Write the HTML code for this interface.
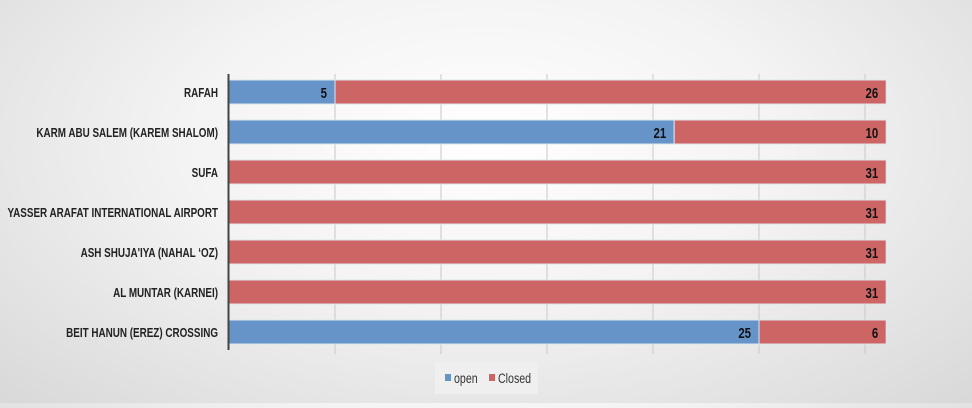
<!DOCTYPE html>
<html><head><meta charset="utf-8"><style>
html,body{margin:0;padding:0}
body{width:972px;height:403px;overflow:hidden;background:radial-gradient(ellipse 70% 90% at 50% 35%,#ffffff 0%,#f3f3f3 45%,#d9d9d9 100%);font-family:"Liberation Sans",sans-serif}
svg text{font-family:"Liberation Sans",sans-serif}
</style></head><body>
<svg id="chart" width="972" height="403" xmlns="http://www.w3.org/2000/svg"></svg>
<script>
const categories=["RAFAH","KARM ABU SALEM (KAREM SHALOM)","SUFA","YASSER ARAFAT INTERNATIONAL AIRPORT","ASH SHUJA'IYA (NAHAL \u2018OZ)","AL MUNTAR (KARNEI)","BEIT HANUN (EREZ) CROSSING"];
const openVals=[5,21,0,0,0,0,25];
const closedVals=[26,10,31,31,31,31,6];
const xTicks=[0,5,10,15,20,25,30];
const svg=document.getElementById('chart');
const NS='http://www.w3.org/2000/svg';
const x0=229,pxPer=21.2,rowTop=92,rowStep=40,barH=24,SX=0.76;
const xs=v=>x0+v*pxPer;
const ys=i=>rowTop+i*rowStep;
function mk(t,a){const e=document.createElementNS(NS,t);for(const k in a)e.setAttribute(k,a[k]);svg.appendChild(e);return e;}
xTicks.forEach(t=>{if(t===0)return;
const g=mk('line',{x1:xs(t),x2:xs(t),y1:74,y2:354,stroke:'#c8c8c8','stroke-width':1});

});
categories.forEach((c,i)=>{
const y=ys(i);
const lbl=mk('text',{x:0,y:0,transform:`translate(218,${y+5}) scale(${SX},1)`,'text-anchor':'end','font-size':13,'font-weight':'bold',fill:'#222'});
lbl.textContent=c;


const segs=[[0,openVals[i],'#6694c8','open'],[openVals[i],closedVals[i],'#cd6565','closed']];
segs.forEach(([s,v,col,nm])=>{
if(v<=0)return;
const r=mk('rect',{x:xs(s),y:y-barH/2,width:v*pxPer,height:barH,fill:col,stroke:'#dfe6ef','stroke-width':1});


const t=mk('text',{x:0,y:0,transform:`translate(${xs(s+v)-8},${y+6}) scale(${SX},1)`,'text-anchor':'end','font-size':15,'font-weight':'bold',fill:'#111'});
t.textContent=v;


});
});
const ax=mk('line',{x1:228.5,x2:228.5,y1:74,y2:350,stroke:'#444','stroke-width':2});


const lg=mk('rect',{x:435,y:362,width:103,height:32,fill:'#efefef'});


[['open','#6694c8',445],['Closed','#cd6565',489]].forEach(([n,c,x])=>{
const s=mk('rect',{x:x,y:374,width:6,height:7,fill:c});


const t=mk('text',{x:0,y:0,transform:`translate(${x+9},383) scale(${SX},1)`,'font-size':14,fill:'#333'});
t.textContent=n;


});
</script>
</body></html>
